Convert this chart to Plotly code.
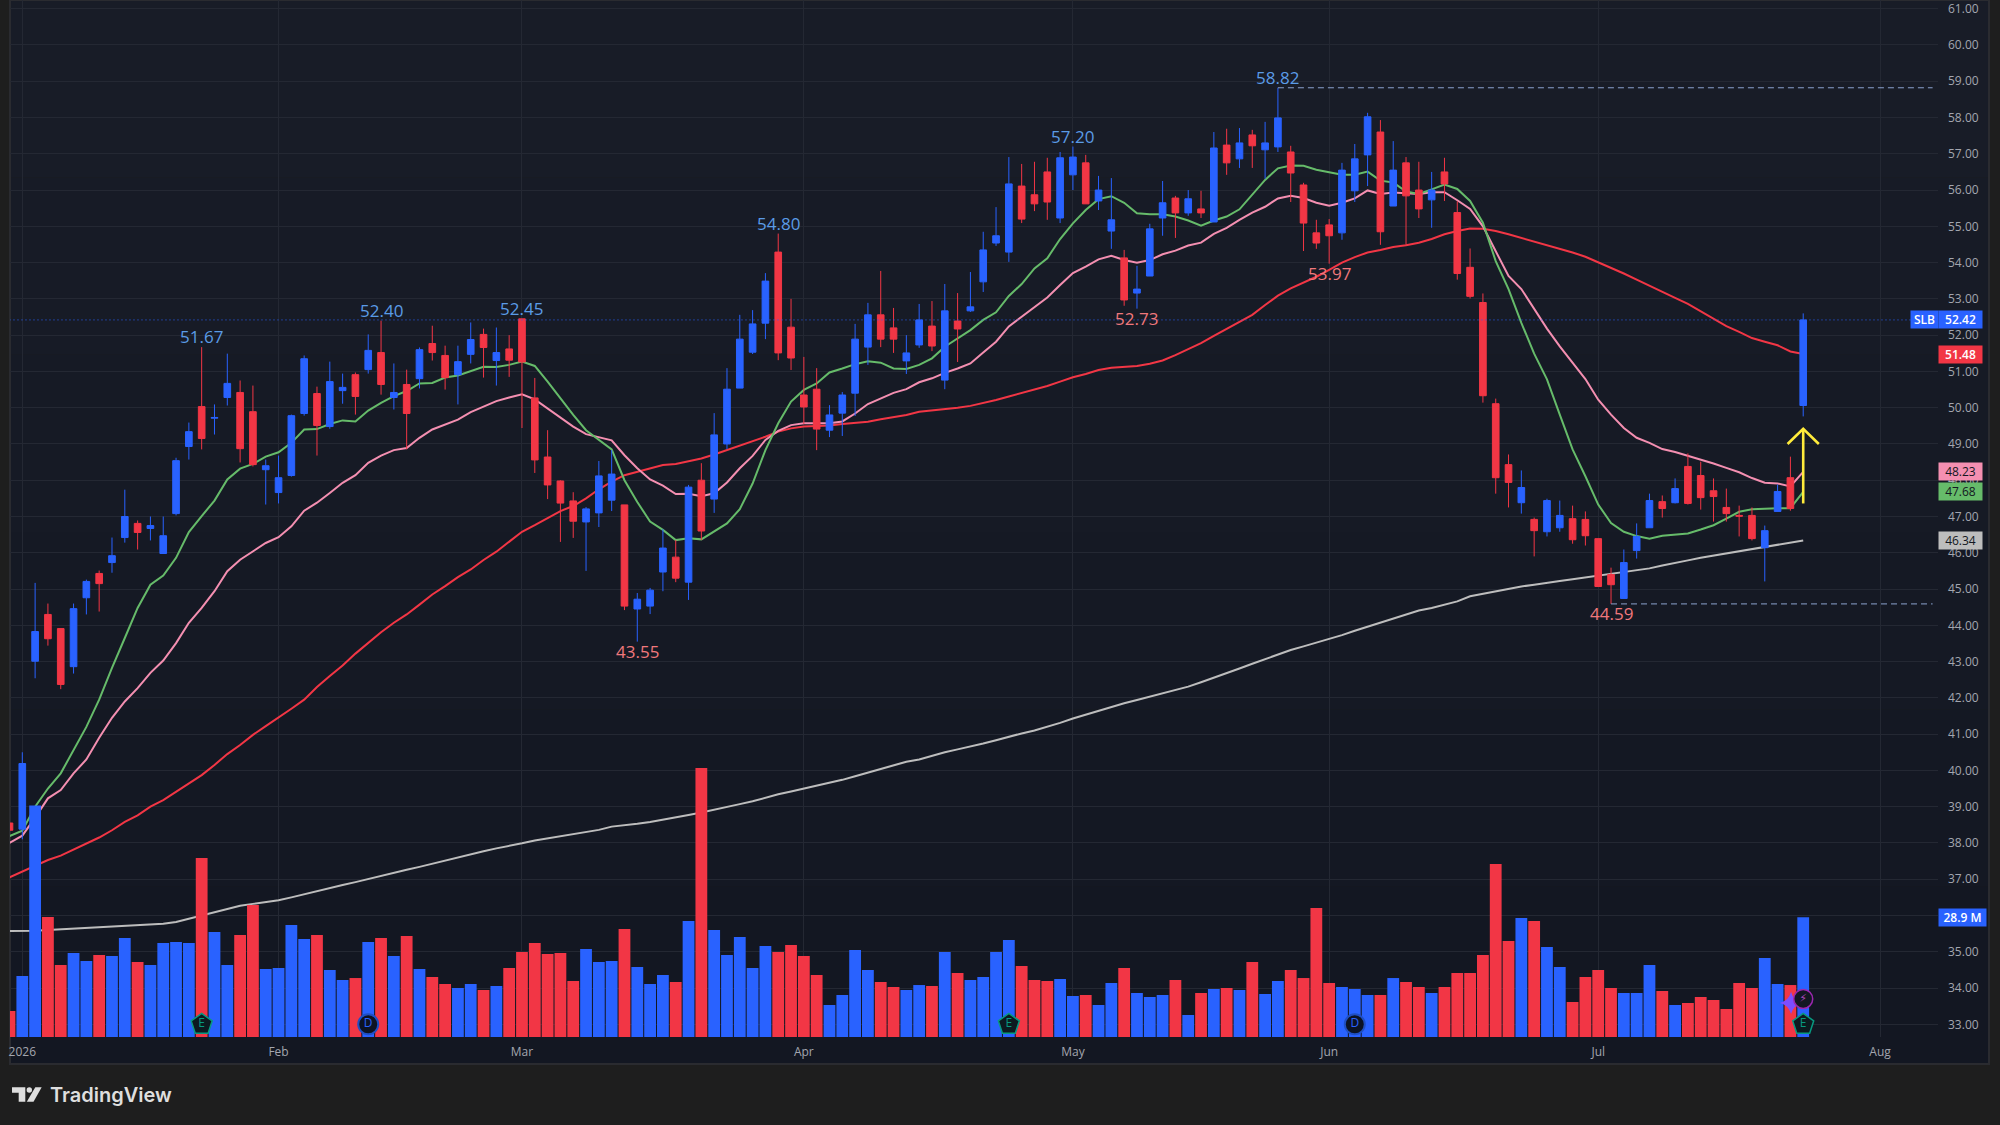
import plotly.graph_objects as go

# Daily SLB session data, oldest bar first
opens = [38.55, 38.38, 43.01, 44.30, 43.91, 42.86, 44.76, 45.43, 45.73, 46.42,
         46.81, 46.67, 45.98, 47.08, 48.93, 50.03, 49.71, 50.28, 50.42, 49.89,
         48.29, 47.66, 48.13, 49.84, 50.39, 49.48, 50.47, 50.91, 51.05, 51.52,
         50.28, 50.64, 50.80, 51.77, 51.44, 50.91, 51.47, 52.02, 51.30, 51.62,
         52.45, 50.27, 48.64, 47.98, 47.43, 46.85, 47.10, 47.45, 47.32, 44.45,
         44.53, 45.47, 45.88, 45.19, 48.00, 47.48, 49.00, 50.54, 51.53, 52.33,
         54.29, 52.22, 50.35, 50.51, 49.38, 49.85, 50.40, 51.67, 52.56, 52.20,
         51.29, 51.73, 52.25, 50.76, 52.39, 52.67, 53.47, 54.54, 54.29, 56.11,
         55.87, 56.50, 55.23, 56.42, 56.75, 55.70, 54.87, 54.13, 53.16, 53.63,
         55.23, 55.78, 55.37, 55.48, 55.12, 57.24, 56.86, 57.52, 57.11, 57.19,
         57.05, 56.14, 54.82, 55.04, 54.82, 55.98, 56.97, 57.60, 55.56, 56.75,
         56.00, 55.73, 56.50, 55.38, 53.87, 52.90, 50.11, 48.43, 47.38, 46.92,
         46.58, 46.69, 46.94, 46.92, 46.39, 45.40, 44.74, 46.06, 46.69, 47.41,
         47.38, 48.38, 48.13, 47.71, 47.25, 47.03, 47.03, 46.14, 47.14, 48.07,
         50.06]
highs = [38.77, 40.50, 45.17, 44.60, 43.91, 44.60, 45.26, 45.51, 46.42, 47.74,
         46.89, 47.00, 47.00, 48.62, 49.59, 51.67, 50.09, 51.49, 50.75, 50.61,
         48.57, 48.68, 49.81, 51.44, 50.58, 51.27, 50.94, 50.97, 52.02, 52.40,
         51.22, 51.05, 51.66, 52.26, 51.71, 51.71, 52.35, 52.18, 52.21, 52.00,
         52.45, 50.82, 49.38, 48.00, 47.67, 47.26, 48.53, 48.83, 47.32, 44.89,
         45.03, 46.65, 46.35, 47.87, 48.47, 49.85, 51.09, 52.56, 52.69, 53.71,
         54.80, 53.00, 51.40, 51.09, 50.07, 50.43, 52.31, 52.89, 53.77, 52.75,
         52.00, 52.86, 52.94, 53.41, 53.16, 53.74, 54.85, 55.53, 56.91, 56.72,
         56.78, 56.89, 57.05, 57.20, 56.97, 56.39, 56.33, 54.35, 53.91, 55.07,
         56.25, 55.84, 56.00, 55.98, 57.60, 57.69, 57.71, 57.66, 57.88, 58.82,
         57.22, 56.20, 55.18, 55.20, 56.75, 57.27, 58.13, 57.93, 57.35, 56.91,
         56.78, 56.50, 56.89, 55.69, 54.39, 53.15, 50.25, 48.71, 48.27, 46.97,
         47.49, 47.44, 47.30, 47.14, 46.39, 45.59, 46.09, 46.81, 47.63, 47.58,
         48.05, 48.74, 48.51, 48.05, 47.77, 47.30, 47.25, 46.75, 47.88, 48.65,
         52.60]
lows = [38.30, 38.10, 42.54, 43.44, 42.24, 42.67, 44.30, 44.38, 45.45, 46.28,
        46.09, 46.34, 45.98, 47.03, 48.57, 48.85, 49.26, 50.06, 48.49, 48.38,
        47.33, 47.36, 48.10, 49.78, 48.68, 49.42, 50.11, 49.81, 50.94, 50.36,
        49.95, 48.85, 50.53, 51.30, 50.50, 50.09, 51.22, 50.83, 50.61, 50.85,
        49.44, 48.20, 47.48, 46.30, 46.41, 45.50, 46.71, 47.15, 44.42, 43.55,
        44.31, 44.94, 45.19, 44.70, 46.35, 47.10, 48.86, 50.54, 51.48, 51.89,
        51.31, 51.04, 49.55, 48.83, 49.19, 49.22, 49.77, 51.18, 51.67, 51.51,
        50.93, 51.65, 51.56, 50.51, 51.26, 52.64, 53.19, 54.46, 54.02, 55.09,
        55.42, 55.18, 55.09, 56.00, 55.62, 55.45, 54.38, 52.81, 52.73, 53.63,
        54.74, 54.68, 55.29, 55.23, 55.12, 56.42, 56.61, 56.61, 56.31, 57.05,
        55.67, 54.32, 54.38, 53.97, 54.63, 55.67, 56.11, 54.49, 55.56, 54.49,
        55.23, 54.96, 55.70, 53.53, 53.01, 50.14, 47.63, 47.25, 47.08, 45.90,
        46.45, 46.58, 46.25, 46.20, 45.07, 44.59, 44.74, 45.84, 46.69, 46.97,
        47.36, 47.33, 47.19, 46.86, 46.86, 46.45, 46.34, 45.21, 47.14, 47.16,
        49.76]
closes = [38.35, 40.19, 43.83, 43.63, 42.37, 44.46, 45.21, 45.15, 45.92, 47.00,
          46.56, 46.75, 46.47, 48.54, 49.34, 49.15, 49.73, 50.67, 48.87, 48.43,
          48.40, 48.07, 49.78, 51.35, 49.51, 50.72, 50.56, 50.31, 51.58, 50.64,
          50.42, 49.84, 51.60, 51.52, 50.83, 51.27, 51.88, 51.66, 51.52, 51.31,
          51.26, 48.56, 47.87, 47.37, 46.87, 47.21, 48.12, 48.17, 44.53, 44.72,
          44.97, 46.13, 45.30, 47.81, 46.60, 49.25, 50.51, 51.89, 52.31, 53.49,
          51.51, 51.37, 50.02, 49.41, 49.80, 50.35, 51.89, 52.56, 51.89, 51.89,
          51.51, 52.42, 51.70, 52.67, 52.17, 52.78, 54.35, 54.74, 56.17, 55.20,
          55.62, 55.67, 56.89, 56.91, 55.62, 56.00, 55.18, 52.97, 53.27, 54.93,
          55.65, 55.37, 55.76, 55.37, 57.16, 56.75, 57.30, 57.22, 57.30, 57.99,
          56.47, 55.09, 54.54, 54.74, 56.55, 56.86, 58.02, 54.85, 56.55, 55.84,
          55.48, 56.00, 56.17, 53.70, 53.07, 50.33, 48.07, 47.94, 47.80, 46.61,
          47.44, 47.03, 46.36, 46.47, 45.07, 45.12, 45.73, 46.45, 47.44, 47.22,
          47.77, 47.36, 47.52, 47.55, 47.08, 47.01, 46.39, 46.61, 47.69, 47.22,
          52.42]

# Share volume per session, in millions
volumes = [6.28, 14.73, 55.90, 28.97, 17.38, 20.28, 18.35, 19.80, 19.56, 23.90,
           18.10, 17.38, 22.70, 22.94, 22.70, 43.22, 25.35, 17.38, 24.63, 31.87,
           16.42, 16.66, 27.04, 23.66, 24.63, 16.18, 13.76, 14.24, 22.94, 23.90,
           19.56, 24.39, 16.42, 14.49, 12.80, 11.83, 12.80, 11.35, 12.31, 16.66,
           20.52, 22.70, 20.04, 20.28, 13.52, 21.25, 18.10, 18.35, 26.08, 16.90,
           12.80, 14.97, 13.28, 28.00, 64.95, 25.83, 19.80, 24.14, 16.66, 21.97,
           20.52, 22.21, 19.56, 14.97, 7.73, 10.14, 21.00, 16.18, 13.28, 12.07,
           11.35, 12.55, 12.31, 20.52, 15.45, 13.76, 14.49, 20.52, 23.42, 17.14,
           13.76, 13.52, 14.00, 9.90, 10.14, 7.73, 13.04, 16.66, 10.62, 9.66,
           10.14, 13.76, 5.31, 10.62, 11.59, 11.83, 11.35, 18.10, 10.38, 13.52,
           16.18, 14.24, 31.15, 13.04, 12.07, 11.59, 10.14, 10.14, 14.24, 13.28,
           12.07, 10.62, 12.07, 15.45, 15.45, 19.80, 41.77, 23.18, 28.73, 28.00,
           21.73, 16.90, 8.45, 14.49, 16.18, 11.83, 10.62, 10.62, 17.38, 11.11,
           7.73, 8.21, 9.66, 8.93, 6.76, 13.04, 11.83, 19.07, 12.80, 12.55,
           28.90]

# Moving averages
ma_fast = [38.19, 38.34, 39.00, 39.50, 39.92, 40.55, 41.20, 41.95, 42.83, 43.65,
           44.48, 45.12, 45.37, 45.86, 46.57, 47.01, 47.44, 48.02, 48.32, 48.45,
           48.65, 48.77, 49.03, 49.40, 49.41, 49.55, 49.65, 49.62, 49.92, 50.13,
           50.32, 50.46, 50.67, 50.68, 50.83, 50.89, 51.02, 51.13, 51.12, 51.18,
           51.27, 51.15, 50.72, 50.26, 49.80, 49.38, 49.11, 48.85, 48.00, 47.40,
           46.86, 46.63, 46.35, 46.40, 46.37, 46.58, 46.81, 47.20, 47.91, 48.83,
           49.57, 50.17, 50.49, 50.67, 50.97, 51.08, 51.20, 51.28, 51.24, 51.08,
           51.07, 51.18, 51.36, 51.68, 51.91, 52.14, 52.42, 52.63, 53.08, 53.41,
           53.84, 54.12, 54.65, 55.08, 55.45, 55.75, 55.83, 55.65, 55.36, 55.33,
           55.33, 55.27, 55.16, 55.02, 55.16, 55.27, 55.47, 55.87, 56.28, 56.60,
           56.68, 56.67, 56.56, 56.49, 56.42, 56.42, 56.51, 56.26, 56.21, 55.96,
           55.89, 56.02, 56.15, 56.03, 55.70, 55.10, 54.04, 53.27, 52.34, 51.49,
           50.78, 49.81, 48.85, 48.11, 47.33, 46.82, 46.58, 46.46, 46.39, 46.47,
           46.49, 46.53, 46.64, 46.76, 46.94, 47.13, 47.20, 47.22, 47.23, 47.23,
           47.68]
ma_mid = [38.00, 38.20, 38.70, 39.23, 39.46, 39.92, 40.30, 40.90, 41.45, 41.90,
          42.27, 42.69, 43.03, 43.51, 44.07, 44.48, 44.94, 45.49, 45.81, 46.04,
          46.27, 46.43, 46.73, 47.16, 47.38, 47.65, 47.93, 48.14, 48.48, 48.68,
          48.83, 48.89, 49.17, 49.40, 49.53, 49.67, 49.88, 50.03, 50.18, 50.28,
          50.37, 50.23, 49.98, 49.75, 49.48, 49.27, 49.18, 49.10, 48.69, 48.33,
          48.02, 47.85, 47.62, 47.63, 47.56, 47.64, 47.94, 48.33, 48.67, 49.11,
          49.36, 49.52, 49.57, 49.57, 49.57, 49.62, 49.84, 50.10, 50.26, 50.41,
          50.51, 50.70, 50.81, 50.96, 51.08, 51.22, 51.52, 51.82, 52.24, 52.51,
          52.79, 53.04, 53.38, 53.71, 53.89, 54.09, 54.19, 54.07, 54.00, 54.07,
          54.23, 54.33, 54.47, 54.55, 54.79, 54.96, 55.18, 55.38, 55.54, 55.77,
          55.84, 55.78, 55.65, 55.57, 55.65, 55.77, 55.99, 55.89, 55.93, 55.91,
          55.89, 55.94, 55.94, 55.72, 55.48, 55.00, 54.32, 53.63, 53.27, 52.71,
          52.18, 51.69, 51.24, 50.79, 50.22, 49.81, 49.44, 49.17, 49.03, 48.86,
          48.78, 48.68, 48.56, 48.46, 48.34, 48.22, 48.06, 47.93, 47.91, 47.83,
          48.23]
ma_slow = [37.05, 37.21, 37.39, 37.53, 37.65, 37.82, 38.00, 38.15, 38.35, 38.58,
           38.76, 39.00, 39.18, 39.41, 39.66, 39.87, 40.15, 40.45, 40.70, 40.98,
           41.22, 41.45, 41.70, 41.95, 42.30, 42.60, 42.89, 43.22, 43.51, 43.81,
           44.07, 44.30, 44.57, 44.85, 45.08, 45.33, 45.54, 45.80, 46.03, 46.31,
           46.58, 46.76, 46.95, 47.15, 47.29, 47.50, 47.75, 47.96, 48.14, 48.24,
           48.33, 48.42, 48.45, 48.53, 48.60, 48.71, 48.83, 48.94, 49.06, 49.20,
           49.34, 49.43, 49.48, 49.49, 49.51, 49.55, 49.59, 49.61, 49.68, 49.73,
           49.80, 49.89, 49.92, 49.95, 50.00, 50.05, 50.12, 50.21, 50.31, 50.40,
           50.49, 50.60, 50.72, 50.84, 50.93, 51.04, 51.10, 51.12, 51.15, 51.21,
           51.30, 51.45, 51.61, 51.78, 51.98, 52.18, 52.36, 52.56, 52.83, 53.09,
           53.29, 53.45, 53.61, 53.80, 54.00, 54.15, 54.28, 54.35, 54.43, 54.48,
           54.55, 54.65, 54.78, 54.87, 54.94, 54.93, 54.87, 54.78, 54.68, 54.58,
           54.50, 54.39, 54.28, 54.16, 54.01, 53.86, 53.70, 53.53, 53.37, 53.19,
           53.03, 52.86, 52.65, 52.45, 52.25, 52.09, 51.92, 51.82, 51.72, 51.55,
           51.48]
ma_long = [35.57, 35.57, 35.58, 35.60, 35.62, 35.63, 35.64, 35.66, 35.69, 35.72,
           35.74, 35.75, 35.77, 35.82, 35.91, 36.01, 36.09, 36.19, 36.27, 36.32,
           36.36, 36.42, 36.50, 36.59, 36.67, 36.76, 36.84, 36.92, 37.01, 37.09,
           37.18, 37.26, 37.34, 37.43, 37.51, 37.60, 37.68, 37.77, 37.85, 37.91,
           37.99, 38.07, 38.13, 38.19, 38.24, 38.31, 38.36, 38.45, 38.48, 38.53,
           38.58, 38.64, 38.69, 38.77, 38.84, 38.91, 38.99, 39.07, 39.15, 39.25,
           39.34, 39.42, 39.50, 39.58, 39.65, 39.74, 39.84, 39.94, 40.05, 40.15,
           40.24, 40.30, 40.41, 40.50, 40.58, 40.65, 40.74, 40.83, 40.93, 41.02,
           41.10, 41.20, 41.31, 41.43, 41.54, 41.65, 41.75, 41.85, 41.94, 42.03,
           42.12, 42.21, 42.31, 42.43, 42.55, 42.67, 42.81, 42.94, 43.07, 43.20,
           43.32, 43.42, 43.52, 43.62, 43.73, 43.85, 43.96, 44.07, 44.20, 44.31,
           44.41, 44.48, 44.57, 44.66, 44.80, 44.87, 44.93, 45.00, 45.07, 45.12,
           45.18, 45.22, 45.27, 45.32, 45.35, 45.40, 45.46, 45.52, 45.57, 45.65,
           45.73, 45.79, 45.86, 45.92, 45.99, 46.04, 46.10, 46.15, 46.21, 46.28,
           46.34]

bars = list(range(len(closes)))

# Time axis labels and the bars they sit on
month_labels = ["2026", "Feb", "Mar", "Apr", "May", "Jun", "Jul", "Aug"]
month_bars = [1, 21, 40, 62, 83, 103, 124, 146]

# Price axis levels; the label at 36 gives way to the volume tag
price_ticks = list(range(33, 62))
price_tick_text = ["" if t == 36 else f"{t:.2f}" for t in price_ticks]

# Swing highs and lows that carry a price label
pivot_high_bars = [15, 29, 40, 60, 83, 99]
pivot_low_bars = [49, 88, 103, 125]

# Event flags along the bottom of the chart
earnings_bars = [15, 78, 140]
dividend_bars = [28, 105]
event_level = 33.0

# Upward arrow drawn on the last bar
arrow_x = [140, 140, None, 138.78, 140, 141.22]
arrow_y = [47.36, 49.42, None, 49.00, 49.42, 49.00]

BLUE = "#2962ff"
RED = "#f23645"
GREEN_MA = "#66bb6a"
PINK_MA = "#f48fb1"
GREY_MA = "#bdbdbd"
OUTER = "#1e1e1e"
GRID = "#242833"
AXIS_TEXT = "#a3a6af"
UI_FONT = "Open Sans"

# Plot area in page pixels
W, H = 2000, 1125
LEFT, RIGHT, TOP, BOTTOM = 10, 1938, 0, 1037
PANE_RIGHT, PANE_BOTTOM = 1989, 1064


def px_x(x):
    return (x - LEFT) / (RIGHT - LEFT)


def px_y(y):
    return 1 - (y - TOP) / (BOTTOM - TOP)


fig = go.Figure()

# Moving averages sit underneath volume and candles
for values, colour, name in [(ma_long, GREY_MA, "MA 200"), (ma_slow, RED, "MA 50"),
                             (ma_mid, PINK_MA, "MA 21"), (ma_fast, GREEN_MA, "MA 10")]:
    fig.add_trace(go.Scatter(x=bars, y=values, mode="lines", name=name, yaxis="y",
                             line=dict(color=colour, width=2), hoverinfo="skip"))

volume_colours = [BLUE if c >= o else RED for o, c in zip(opens, closes)]
fig.add_trace(go.Bar(x=bars, y=volumes, width=0.92, yaxis="y2", name="Volume",
                     marker=dict(color=volume_colours, line=dict(width=0))))

fig.add_trace(go.Candlestick(
    x=bars, open=opens, high=highs, low=lows, close=closes, yaxis="y3", name="SLB",
    whiskerwidth=0,
    increasing=dict(line=dict(color=BLUE, width=1), fillcolor=BLUE),
    decreasing=dict(line=dict(color=RED, width=1), fillcolor=RED),
))

# Last price line and the period high / low levels
fig.add_trace(go.Scatter(x=[0, 151], y=[closes[-1], closes[-1]], mode="lines", yaxis="y3",
                         line=dict(color=BLUE, width=1, dash="1px,3px"), hoverinfo="skip"))
top_bar = highs.index(max(highs))
low_bar = lows.index(min(lows[100:]), 100)
for start, level in [(top_bar, highs[top_bar]), (low_bar, lows[low_bar])]:
    fig.add_trace(go.Scatter(x=[start, 150.1], y=[level, level], mode="lines", yaxis="y3",
                             line=dict(color="#8ba3cf", width=1, dash="6px,4px"), hoverinfo="skip"))

fig.add_trace(go.Scatter(x=arrow_x, y=arrow_y, mode="lines", yaxis="y3",
                         line=dict(color="#ffeb3b", width=2.6), hoverinfo="skip"))

# Event flags
fig.add_trace(go.Scatter(x=earnings_bars, y=[event_level] * len(earnings_bars),
                         mode="markers+text", yaxis="y3", text=["E"] * len(earnings_bars),
                         textposition="middle center",
                         textfont=dict(color="#089981", size=12, family=UI_FONT),
                         marker=dict(symbol="pentagon", size=22, color="#0c1a20",
                                     line=dict(color="#089981", width=1.5)),
                         hoverinfo="skip"))
fig.add_trace(go.Scatter(x=dividend_bars, y=[event_level] * len(dividend_bars),
                         mode="markers+text", yaxis="y3", text=["D"] * len(dividend_bars),
                         textposition="middle center",
                         textfont=dict(color=BLUE, size=12, family=UI_FONT),
                         marker=dict(symbol="circle", size=20, color="#0c1324",
                                     line=dict(color="#1f4fc4", width=2)),
                         hoverinfo="skip"))
fig.add_trace(go.Scatter(x=[139.05], y=[33.59], mode="markers", yaxis="y3",
                         marker=dict(symbol="star-diamond", size=16, color="#7c4dff"),
                         hoverinfo="skip"))
fig.add_trace(go.Scatter(x=[140], y=[33.70], mode="markers+text", yaxis="y3", text=["⚡"],
                         textposition="middle center",
                         textfont=dict(color="#ab47bc", size=11, family="DejaVu Sans"),
                         marker=dict(symbol="circle", size=19, color="#131722",
                                     line=dict(color="#9c27b0", width=1.5)),
                         hoverinfo="skip"))

annotations = []

# Swing labels above highs and below lows
for i in pivot_high_bars:
    annotations.append(dict(x=i, y=highs[i], xref="x", yref="y3", text=f"{highs[i]:.2f}",
                            showarrow=False, yanchor="middle", xanchor="center", yshift=10.5,
                            font=dict(family=UI_FONT, size=17, color="#5b9be6")))
for i in pivot_low_bars:
    annotations.append(dict(x=i, y=lows[i], xref="x", yref="y3", text=f"{lows[i]:.2f}",
                            showarrow=False, yanchor="middle", xanchor="center", yshift=-10,
                            font=dict(family=UI_FONT, size=17, color="#f0787c")))


def value_tag(value, yref, text, bg, fg, cx, width, weight=400):
    annotations.append(dict(x=px_x(cx), y=value, xref="paper", yref=yref, text=text,
                            showarrow=False, xanchor="center", yanchor="middle",
                            width=width, height=15, bgcolor=bg, borderpad=1, align="center",
                            font=dict(family=UI_FONT, size=12, color=fg, weight=weight)))


DARK_TEXT = "#131722"
value_tag(ma_long[-1], "y", f"{ma_long[-1]:.2f}", GREY_MA, DARK_TEXT, 1960.5, 41)
value_tag(ma_fast[-1], "y", f"{ma_fast[-1]:.2f}", GREEN_MA, DARK_TEXT, 1960.5, 41)
value_tag(ma_mid[-1], "y", f"{ma_mid[-1]:.2f}", PINK_MA, DARK_TEXT, 1960.5, 41)
value_tag(ma_slow[-1], "y", f"{ma_slow[-1]:.2f}", RED, "#ffffff", 1960.5, 41, 600)
value_tag(closes[-1], "y", f"{closes[-1]:.2f}", BLUE, "#ffffff", 1960.5, 41, 600)
value_tag(closes[-1], "y", "SLB", BLUE, "#ffffff", 1924.5, 25, 600)
value_tag(volumes[-1], "y2", f"{volumes[-1]:.1f} M", BLUE, "#ffffff", 1962.5, 45, 600)

# Wordmark in the footer
annotations.append(dict(x=px_x(47.5), y=px_y(1095), xref="paper", yref="paper", text="TradingView",
                        showarrow=False, xanchor="left", yanchor="middle",
                        font=dict(family="Inter", size=20, color="#dedede", weight=600)))

shapes = []

# Pane background: a faint vertical gradient, lighter at the top
band_colours = ["#181c27", "#171b26", "#161a25", "#151924", "#141823", "#131722"]
for b, colour in enumerate(band_colours):
    y0 = PANE_BOTTOM * b / len(band_colours)
    y1 = PANE_BOTTOM * (b + 1) / len(band_colours)
    shapes.append(dict(type="rect", xref="paper", yref="paper", layer="below",
                       x0=px_x(LEFT), x1=px_x(PANE_RIGHT), y0=px_y(y0), y1=px_y(y1),
                       fillcolor=colour, line=dict(width=0)))
shapes.append(dict(type="rect", xref="paper", yref="paper", layer="below",
                   x0=px_x(LEFT), x1=px_x(PANE_RIGHT), y0=px_y(0), y1=px_y(PANE_BOTTOM),
                   fillcolor="rgba(0,0,0,0)", line=dict(color="#2a2b30", width=2)))


def logo_path(points):
    return "M" + "L".join(f"{px_x(x):.5f},{px_y(y):.5f}" for x, y in points) + "Z"


LOGO = "#dedede"
shapes.append(dict(type="path", xref="paper", yref="paper", layer="above", line=dict(width=0),
                   fillcolor=LOGO,
                   path=logo_path([(12, 1087.3), (25.3, 1087.3), (25.3, 1101.7), (18.7, 1101.7),
                                   (18.7, 1092.7), (12, 1092.7)])))
shapes.append(dict(type="path", xref="paper", yref="paper", layer="above", line=dict(width=0),
                   fillcolor=LOGO,
                   path=logo_path([(35.3, 1087.3), (41.7, 1087.3), (33.5, 1101.7), (26.8, 1101.7)])))
shapes.append(dict(type="circle", xref="paper", yref="paper", layer="above", line=dict(width=0),
                   fillcolor=LOGO, x0=px_x(26.6), x1=px_x(32), y0=px_y(1087.3), y1=px_y(1092.7)))

price_range = [32.65, 61.24]
fig.update_layout(
    width=W, height=H,
    autosize=False,
    margin=dict(l=LEFT, r=W - RIGHT, t=TOP, b=H - BOTTOM, pad=0),
    paper_bgcolor=OUTER,
    plot_bgcolor="rgba(0,0,0,0)",
    showlegend=False,
    hovermode=False,
    boxgap=0.26,
    font=dict(family=UI_FONT, size=12, color=AXIS_TEXT),
    annotations=annotations,
    shapes=shapes,
    xaxis=dict(
        type="linear", range=[0.04, 150.52], rangeslider=dict(visible=False),
        tickmode="array", tickvals=month_bars, ticktext=month_labels,
        showgrid=True, gridcolor=GRID, gridwidth=1, zeroline=False, showline=False,
        ticks="", ticklabelstandoff=6, tickfont=dict(family=UI_FONT, size=12, color=AXIS_TEXT),
    ),
    yaxis=dict(
        side="right", range=price_range, tickmode="array", tickvals=price_ticks,
        ticktext=price_tick_text, ticklabeloverflow="allow",
        showgrid=True, gridcolor=GRID, gridwidth=1, zeroline=False, showline=False,
        ticks="", ticklabelstandoff=9, tickfont=dict(family=UI_FONT, size=12, color=AXIS_TEXT),
    ),
    yaxis2=dict(overlaying="y", side="right", range=[0, 250.4], visible=False),
    yaxis3=dict(overlaying="y", side="right", range=price_range, visible=False),
)

fig.write_html("out.html", config=dict(displayModeBar=False))
